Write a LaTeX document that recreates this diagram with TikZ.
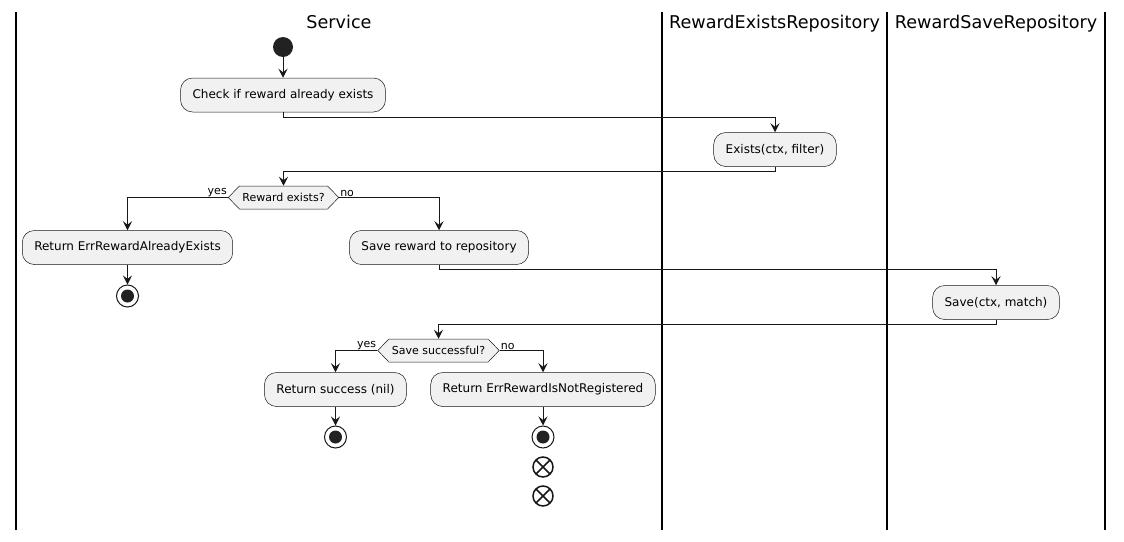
\documentclass[tikz,border=0pt]{standalone}
\usepackage{fontspec}
\setmainfont{DejaVu Sans}
\usetikzlibrary{arrows.meta,shapes.symbols}

\definecolor{boxfill}{HTML}{F1F1F1}
\definecolor{lineclr}{HTML}{181818}
\definecolor{dotclr}{HTML}{222222}

\tikzset{
  activity/.style={draw=lineclr, line width=0.5pt, fill=boxfill, rounded corners=12pt,
    minimum height=34pt, inner xsep=12pt, font=\fontsize{12}{14}\selectfont},
  decision/.style={draw=lineclr, line width=0.5pt, fill=boxfill, shape=signal,
    signal to=west and east, signal pointer angle=92, minimum height=23pt,
    inner xsep=3pt, inner ysep=0pt, font=\fontsize{11}{13}\selectfont},
  guard/.style={font=\fontsize{11}{13}\selectfont, inner sep=1pt},
  lanetitle/.style={anchor=base, font=\fontsize{17.6}{20}\selectfont},
  flow/.style={draw=lineclr, line width=1pt, -{Stealth[length=9pt,width=9pt,inset=3.5pt]}},
  startnode/.style={circle, fill=dotclr, minimum size=20pt, inner sep=0pt},
  stopnode/.style={circle, draw=lineclr, line width=1pt, fill=white, minimum size=22pt, inner sep=0pt,
    path picture={\fill[dotclr] (path picture bounding box.center) circle (6.5pt);}},
  endnode/.style={circle, draw=lineclr, line width=1.5pt, fill=white, minimum size=20pt, inner sep=0pt,
    path picture={\draw[lineclr, line width=1.5pt] (path picture bounding box.north west) -- (path picture bounding box.south east)
      (path picture bounding box.north east) -- (path picture bounding box.south west);}}
}

\begin{document}
\begin{tikzpicture}[x=1pt, y=-1pt]
  \useasboundingbox (0,0) rectangle (1124,541);

  % Drawing swimlane borders
  \foreach \lx in {16, 662, 887, 1105}
    \draw [line width=1.5pt] (\lx,12) -- (\lx,530);%

  % Marking swimlane titles
  \node [lanetitle] (laneservice) at (339,28) {Service};%
  \node [lanetitle] (laneexists) at (774.5,28) {RewardExistsRepository};%
  \node [lanetitle] (lanesave) at (996,28) {RewardSaveRepository};%

  % Marking activities
  \node [startnode] (start) at (283,47) {};%
  \node [activity] (check) at (283,95) {Check if reward already exists};%
  \node [activity] (exists) at (775,149.5) {Exists(ctx, filter)};%
  \node [decision] (rewardexists) at (283.5,197.5) {Reward exists?};%
  \node [activity] (erralready) at (127.5,247.5) {Return ErrRewardAlreadyExists};%
  \node [activity] (savereward) at (439,247.5) {Save reward to repository};%
  \node [stopnode] (stopalready) at (127.5,296) {};%
  \node [activity] (saveop) at (996,302.5) {Save(ctx, match)};%
  \node [decision] (savesuccess) at (438.5,350.5) {Save successful?};%
  \node [activity] (retsuccess) at (335.5,389.5) {Return success (nil)};%
  \node [activity] (errnotreg) at (543,389.5) {Return ErrRewardIsNotRegistered};%
  \node [stopnode] (stopsuccess) at (335.5,437) {};%
  \node [stopnode] (stopnotreg) at (543,437) {};%
  \node [endnode] (endone) at (543,467) {};%
  \node [endnode] (endtwo) at (543,496) {};%

  % Marking guards
  \node [guard, anchor=south east] (yesone) at (rewardexists.west) {yes};%
  \node [guard, anchor=south west] (noone) at (rewardexists.east) {no};%
  \node [guard, anchor=south east] (yestwo) at (savesuccess.west) {yes};%
  \node [guard, anchor=south west] (notwo) at (savesuccess.east) {no};%

  % Drawing flows
  \draw [flow] (start) -- (check);%
  \draw [flow] (check.south) -- ++(0,5) -| (exists.north);%
  \draw [flow] (exists.south) -- ++(0,5) -| (rewardexists.north);%
  \draw [flow] (rewardexists.west) -| (erralready.north);%
  \draw [flow] (rewardexists.east) -| (savereward.north);%
  \draw [flow] (erralready) -- (stopalready);%
  \draw [flow] (savereward.south) -- ++(0,5) -| (saveop.north);%
  \draw [flow] (saveop.south) -- ++(0,5) -| (savesuccess.north);%
  \draw [flow] (savesuccess.west) -| (retsuccess.north);%
  \draw [flow] (savesuccess.east) -| (errnotreg.north);%
  \draw [flow] (retsuccess) -- (stopsuccess);%
  \draw [flow] (errnotreg) -- (stopnotreg);%
\end{tikzpicture}
\end{document}
